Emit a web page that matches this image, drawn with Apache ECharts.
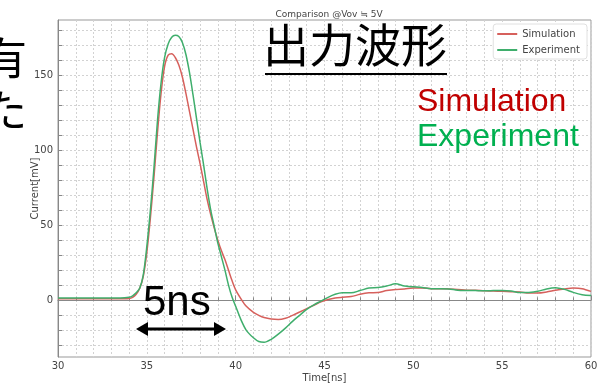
<!DOCTYPE html>
<html>
<head>
<meta charset="utf-8">
<script src="https://cdn.jsdelivr.net/npm/echarts@6/dist/echarts.min.js"></script>
<style>
  html, body { margin: 0; padding: 0; background: #fff; }
  #chart { width: 600px; height: 383px; }
</style>
</head>
<body>
<div id="chart"></div>
<script>
// time axis (ns)
var timeNs = [30, 31, 32, 33, 33.5, 34, 34.2, 34.4, 34.6, 34.8, 35.0, 35.2, 35.4, 35.6, 35.8, 36.0, 36.2, 36.4, 36.6, 36.8,
  37.0, 37.2, 37.4, 37.6, 37.8, 38.0, 38.2, 38.4, 38.6, 38.8, 39.0, 39.2, 39.4, 39.6, 39.8, 40.0, 40.3, 40.6, 41.0, 41.3,
  41.6, 42.0, 42.4, 42.8, 43.2, 43.6, 44.0, 44.4, 44.8, 45.2, 45.6, 46.0, 46.5, 47, 47.5, 48, 48.5, 49, 49.5, 50,
  50.5, 51, 51.5, 52, 52.5, 53, 53.5, 54, 54.5, 55, 55.5, 56, 56.5, 57, 57.5, 58, 58.5, 59, 59.5, 60];

// Current[mV]
var simulation = [1, 1, 1, 1, 1, 1.2, 2, 4, 8, 16, 32, 55, 82, 112, 138, 156, 163.5, 164.5, 162, 157,
  149, 138, 126, 114, 102, 91, 79, 67, 57, 48, 40, 33, 27, 20, 13, 7, 1, -4, -8, -10,
  -11.5, -12.5, -12.8, -12, -10, -7.8, -5.5, -3.3, -1, 0.5, 1.5, 2, 2.5, 4, 5, 5.2, 6.5, 7.3, 7.6, 8.2,
  8.2, 7.8, 7.8, 7.6, 7.3, 6.8, 6.7, 6.4, 6.2, 6, 5.8, 5.6, 4.9, 4.9, 5.6, 6.7, 7.6, 8.2, 7.8, 6];

var experiment = [1.5, 1.5, 1.5, 1.5, 1.5, 2, 3, 5, 8, 17, 36, 60, 88, 120, 145, 162, 171, 175.5, 176.8, 176,
  172, 164, 152, 137, 121, 105, 90, 74, 60, 49, 38, 29, 20, 10, 2, -4, -13, -20, -25, -27.5,
  -28, -26, -22.5, -18.5, -14, -10, -6, -3, -0.5, 2, 4, 5, 5, 6.5, 8.2, 8.5, 9.5, 11, 9.5, 9,
  8.6, 7.8, 7.8, 7.6, 6.8, 6.6, 6.5, 6.4, 6.5, 6.6, 6.3, 5.2, 5.3, 6, 7.6, 8.4, 7.3, 5.3, 3.8, 3.2];

var yLabelValues = [0, 50, 100, 150];
var yTickValues = [-30, -20, -10, 0, 10, 20, 30, 40, 50, 60, 70, 80, 90, 100, 110, 120, 130, 140, 150, 160, 170, 180];

function pairs(xs, ys) {
  var out = [];
  for (var i = 0; i < xs.length; i++) out.push([xs[i], ys[i]]);
  return out;
}

var chart = echarts.init(document.getElementById('chart'));

var gridLine = { show: true, lineStyle: { color: '#d2d2d2', type: [2, 2], width: 1 } };

var option = {
  animation: false,
  backgroundColor: '#fff',
  textStyle: { fontFamily: 'DejaVu Sans' },
  title: {
    text: 'Comparison @Vov \u2252 5V',
    left: 324, top: 5, textAlign: 'center',
    textStyle: { fontSize: 9, fontWeight: 'normal', color: '#444', fontFamily: 'DejaVu Sans' }
  },
  grid: {
    left: 58, right: 9, top: 20, bottom: 26,
    outerBoundsMode: 'none',
    containLabel: false,
    show: true, borderColor: '#999', borderWidth: 1
  },
  legend: {
    data: ['Simulation', 'Experiment'],
    orient: 'vertical',
    right: 13, top: 24,
    icon: 'rect', itemWidth: 20, itemHeight: 2, itemGap: 6,
    padding: [5, 7, 4, 4],
    backgroundColor: '#fff', borderColor: '#e0e0e0', borderWidth: 1, borderRadius: 3,
    textStyle: { fontSize: 10, color: '#444', fontFamily: 'DejaVu Sans' }
  },
  xAxis: {
    type: 'value', min: 30, max: 60, interval: 5,
    name: 'Time[ns]', nameLocation: 'middle', nameGap: 16, nameMoveOverlap: false,
    nameTextStyle: { fontSize: 10, color: '#444' },
    axisLine: { show: true, lineStyle: { color: '#888' } },
    axisTick: { show: true, inside: true, length: 5, lineStyle: { color: '#888' } },
    minorTick: { show: true, splitNumber: 5, length: 3, lineStyle: { color: '#888' } },
    axisLabel: { fontSize: 10, color: '#444', margin: 4 },
    splitLine: gridLine,
    minorSplitLine: gridLine
  },
  yAxis: {
    type: 'value', min: -37.8, max: 187,
    name: 'Current[mV]', nameLocation: 'middle', nameGap: 18, nameMoveOverlap: false,
    nameTextStyle: { fontSize: 10, color: '#444' },
    axisLine: { show: true, lineStyle: { color: '#888' } },
    axisTick: { show: true, inside: true, length: 4, customValues: yTickValues, lineStyle: { color: '#888' } },
    axisLabel: { fontSize: 10, color: '#444', margin: 5, customValues: yLabelValues },
    splitLine: gridLine
  },
  series: [{
    name: 'Simulation',
    type: 'line',
    data: pairs(timeNs, simulation),
    showSymbol: false,
    smooth: 0.3,
    itemStyle: { color: '#d6605c' },
    lineStyle: { color: '#d6605c', width: 1.5 }
  }, {
    name: 'Experiment',
    type: 'line',
    data: pairs(timeNs, experiment),
    showSymbol: false,
    smooth: 0.3,
    itemStyle: { color: '#3fae6c' },
    lineStyle: { color: '#3fae6c', width: 1.5 }
  }],
  graphic: [
    // slide text cut off at the left edge
    { type: 'text', z: 100, left: -17, top: 36, style: { text: '有', fontSize: 44, fill: '#000', fontFamily: 'Noto Sans CJK JP' } },
    { type: 'text', z: 100, left: -17, top: 88, style: { text: 'た', fontSize: 44, fill: '#000', fontFamily: 'Noto Sans CJK JP' } },
    // 出力波形 with underline
    { type: 'text', z: 100, left: 263, top: 22, style: { text: '出力波形', fontSize: 46, fill: '#000', fontFamily: 'Noto Sans CJK JP' } },
    { type: 'line', z: 100, shape: { x1: 265, y1: 74, x2: 447, y2: 74 }, style: { stroke: '#000', lineWidth: 2 } },
    { type: 'text', z: 100, left: 417, top: 86, style: { text: 'Simulation', fontSize: 32, fill: '#c00000', fontFamily: 'Liberation Sans' } },
    { type: 'text', z: 100, left: 417, top: 121, style: { text: 'Experiment', fontSize: 32, fill: '#00b050', fontFamily: 'Liberation Sans' } },
    // 5ns arrow
    { type: 'text', z: 100, left: 143, top: 282, style: { text: '5ns', fontSize: 42, fill: '#000', fontFamily: 'Liberation Sans' } },
    { type: 'line', z: 100, shape: { x1: 144, y1: 329, x2: 218, y2: 329 }, style: { stroke: '#000', lineWidth: 3 } },
    { type: 'polygon', z: 100, shape: { points: [[136, 329], [148, 322], [148, 336]] }, style: { fill: '#000' } },
    { type: 'polygon', z: 100, shape: { points: [[226, 329], [214, 322], [214, 336]] }, style: { fill: '#000' } }
  ]
};

chart.setOption(option);
</script>
</body>
</html>
